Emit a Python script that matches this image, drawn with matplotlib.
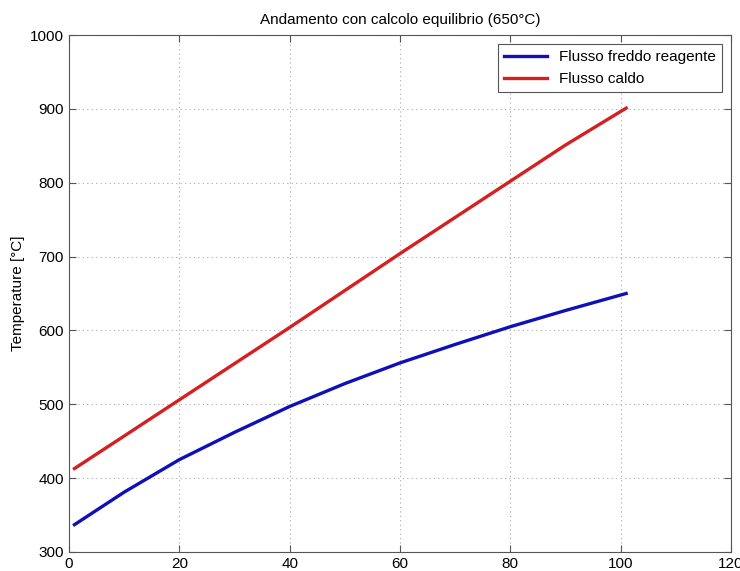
import numpy as np
import matplotlib.pyplot as plt

plt.rcParams['font.family'] = ['Liberation Sans', 'DejaVu Sans']

# dati
x = [1, 10, 20, 30, 40, 50, 60, 70, 80, 90, 101]
t_freddo = [337, 381, 425, 462, 497, 528, 556, 581, 605, 627, 650]
t_caldo = [413, 457, 506, 555, 604, 654, 704, 753, 802, 851, 901]

fig = plt.figure(figsize=(7.4, 5.71), dpi=100)
ax = fig.add_axes([0.0932, 0.0333, 0.8946, 0.9054])

ax.plot(x, t_freddo, color='#1010b8', linewidth=2.4, label='Flusso freddo reagente')
ax.plot(x, t_caldo, color='#d42020', linewidth=2.4, label='Flusso caldo')

ax.set_xlim(0, 120)
ax.set_ylim(300, 1000)
ax.set_xticks(np.arange(0, 121, 20))
ax.set_yticks(np.arange(300, 1001, 100))
ax.grid(True, linestyle=(0, (1, 3)), color='#aaaaaa', linewidth=0.8)
ax.tick_params(direction='in', top=True, right=True, labelsize=11, length=5, color='#555555')
for s in ax.spines.values():
    s.set_color('#555555')

ax.set_ylabel('Temperature [°C]', fontsize=11)
ax.set_title('Andamento con calcolo equilibrio (650°C)', fontsize=11, pad=8)
leg = ax.legend(loc='upper right', fontsize=11, fancybox=False, framealpha=1,
                edgecolor='#555555', borderaxespad=0.6, handlelength=2.8)
leg.get_frame().set_linewidth(0.8)

fig.savefig('out.png', dpi=100)
